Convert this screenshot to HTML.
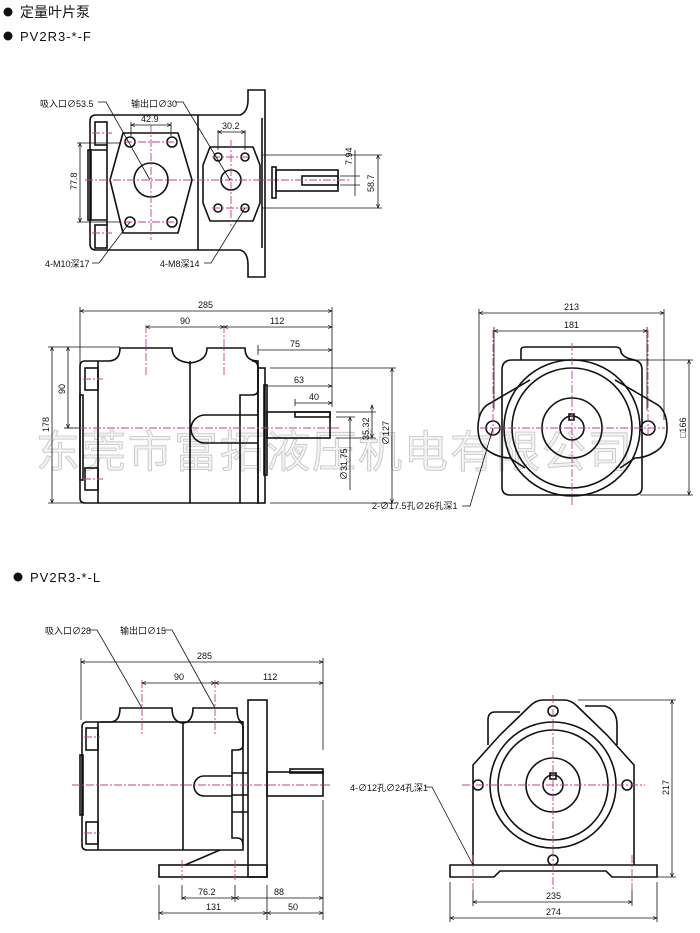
<!DOCTYPE html>
<html><head><meta charset="utf-8"><style>
html,body{margin:0;padding:0;background:#fff;width:700px;height:933px;overflow:hidden}
svg{display:block}
text{font-family:"Liberation Sans","Noto Sans CJK SC",sans-serif;fill:#111}
.o{fill:none;stroke:#111;stroke-width:1.6}
.d{fill:none;stroke:#111;stroke-width:0.8}
.c{fill:none;stroke:#c2408e;stroke-width:0.9;stroke-dasharray:8 2 2 2}
.t{font-size:9px}
.wm{fill:#f3f3f3;stroke:#c4c4c4;stroke-width:0.8;font-size:44px;letter-spacing:2px}
</style></head><body>
<svg width="700" height="933" viewBox="0 0 700 933">
<defs>
<marker id="a" markerWidth="6" markerHeight="6" refX="5" refY="3" orient="auto-start-reverse"><path d="M0,1 L5,3 L0,5" fill="none" stroke="#111" stroke-width="0.8"/></marker>
</defs>
<!-- header -->
<circle cx="8" cy="12" r="4.5" fill="#111"/>
<text x="20" y="17" font-size="14">定量叶片泵</text>
<circle cx="8" cy="36" r="4.5" fill="#111"/>
<text x="20" y="41" font-size="13" letter-spacing="1">PV2R3-*-F</text>

<!-- watermark -->
<text class="wm" x="36" y="467">东莞市富拓液压机电有限公司</text>

<!-- VIEW 1 -->
<g>
<path class="o" d="M96,115 H240 Q248,112 248,100 V90 H265 V277 H248 V265 Q248,252 240,250 H96 Q90,250 90,244 V121 Q90,115 96,115 Z"/>
<line class="o" x1="198" y1="115" x2="198" y2="250"/>
<line class="o" x1="262" y1="118" x2="262" y2="248"/>
<rect class="o" x="95" y="122" width="12" height="23"/>
<rect class="o" x="95" y="225" width="12" height="23"/>
<path class="o" d="M107,145 V225 M90,150 H107 M90,220 H107"/>
<rect class="o" x="88" y="150" width="3" height="70"/>
<path class="o" d="M123,133 H178 L192,180 L178,233 H123 L110,180 Z" stroke-linejoin="round"/>
<circle class="o" cx="151" cy="180" r="17"/>
<circle class="o" cx="130" cy="142" r="5"/><circle class="o" cx="172" cy="142" r="5"/>
<circle class="o" cx="130" cy="222" r="5"/><circle class="o" cx="172" cy="222" r="5"/>
<path class="o" d="M210,147 H253 L260,165 V203 L253,221 H210 L203,203 V165 Z" stroke-linejoin="round"/>
<circle class="o" cx="231" cy="180" r="10"/>
<circle class="o" cx="218" cy="157" r="4"/><circle class="o" cx="245" cy="157" r="4"/>
<circle class="o" cx="218" cy="208" r="4"/><circle class="o" cx="245" cy="208" r="4"/>
<rect class="o" x="272" y="167" width="4" height="31"/>
<rect class="o" x="276" y="170" width="62" height="21"/>
<rect class="o" x="302" y="176" width="36" height="9"/>
<line class="c" x1="85" y1="180" x2="350" y2="180"/>
<line class="c" x1="151" y1="125" x2="151" y2="240"/>
<line class="c" x1="231" y1="140" x2="231" y2="226"/>
<line class="c" x1="92" y1="133" x2="112" y2="133"/><line class="c" x1="92" y1="233" x2="112" y2="233"/>
<line class="c" x1="124" y1="142" x2="178" y2="142"/><line class="c" x1="124" y1="222" x2="178" y2="222"/>
<line class="c" x1="212" y1="157" x2="250" y2="157"/><line class="c" x1="212" y1="208" x2="250" y2="208"/>
<path class="d" d="M131,122 V136 M171,122 V136"/><line class="d" x1="131" y1="125" x2="171" y2="125" marker-start="url(#a)" marker-end="url(#a)"/>
<text class="t" x="141" y="122">42.9</text>
<path class="d" d="M218,130 V150 M245,130 V150"/><line class="d" x1="218" y1="132" x2="245" y2="132" marker-start="url(#a)" marker-end="url(#a)"/>
<text class="t" x="222" y="129">30.2</text>
<path class="d" d="M77,143 H120 M77,222 H120"/><line class="d" x1="80" y1="143" x2="80" y2="222" marker-start="url(#a)" marker-end="url(#a)"/>
<text class="t" transform="translate(77,190) rotate(-90)">77.8</text>
<path class="d" d="M262,155 H382 M262,208 H382 M340,176 H360 M340,185 H360"/>
<line class="d" x1="378" y1="155" x2="378" y2="208" marker-start="url(#a)" marker-end="url(#a)"/>
<line class="d" x1="355" y1="150" x2="355" y2="196"/>
<text class="t" transform="translate(374,192) rotate(-90)">58.7</text>
<text class="t" transform="translate(352,165) rotate(-90)">7.94</text>
<text class="t" x="40" y="107">吸入口∅53.5</text>
<path class="d" d="M98,102 H106 L150,180"/>
<text class="t" x="131" y="107">输出口∅30</text>
<path class="d" d="M175,102 H183 L230,180"/>
<text class="t" x="45" y="267">4-M10深17</text>
<path class="d" d="M92,263 H99 L130,222"/>
<text class="t" x="160" y="267">4-M8深14</text>
<path class="d" d="M204,263 H211 L245,208"/>
</g>

<!-- VIEW 2 -->
<g>
<path class="o" d="M85,361 H108 Q120,361 120,348 H172 Q172,361 190,363 Q207,361 207,348 H245 Q245,361 258,361 V503 H85 Q80,503 80,498 V366 Q80,361 85,361 Z"/>
<line class="o" x1="190" y1="361" x2="190" y2="503"/>
<line class="o" x1="98" y1="361" x2="98" y2="503"/>
<rect class="o" x="85" y="368" width="13" height="22"/>
<rect class="o" x="85" y="468" width="13" height="22"/>
<rect class="o" x="80" y="395" width="3" height="85"/>
<path class="o" d="M252,361 Q258,361 258,368 V390 Q258,395 252,395 H240 V503"/>
<path class="o" d="M240,415 H258 M240,443 H258"/>
<path class="o" d="M240,415 H205 A14,14 0 0 0 205,443 H240"/>
<rect class="o" x="258" y="368" width="7" height="135"/>
<rect class="o" x="264" y="385" width="3" height="90"/>
<rect class="o" x="267" y="412" width="63" height="26"/>
<rect class="o" x="295" y="412" width="35" height="5"/>
<line class="c" x1="65" y1="428" x2="340" y2="428"/>
<line class="c" x1="146" y1="325" x2="146" y2="377"/>
<line class="c" x1="224" y1="325" x2="224" y2="377"/>
<line class="c" x1="83" y1="379" x2="103" y2="379"/><line class="c" x1="83" y1="479" x2="103" y2="479"/>
<path class="d" d="M80,307 V400 M332,307 V407 M258,345 V355 M295,399 V406"/>
<line class="d" x1="80" y1="311" x2="332" y2="311" marker-start="url(#a)" marker-end="url(#a)"/><text class="t" x="198" y="308">285</text>
<line class="d" x1="146" y1="327" x2="224" y2="327" marker-start="url(#a)" marker-end="url(#a)"/><text class="t" x="180" y="324">90</text>
<line class="d" x1="224" y1="327" x2="332" y2="327" marker-start="url(#a)" marker-end="url(#a)"/><text class="t" x="270" y="324">112</text>
<line class="d" x1="258" y1="350" x2="332" y2="350" marker-end="url(#a)"/><text class="t" x="290" y="347">75</text>
<line class="d" x1="267" y1="386" x2="332" y2="386" marker-end="url(#a)"/><text class="t" x="294" y="383">63</text>
<line class="d" x1="295" y1="403" x2="332" y2="403" marker-end="url(#a)"/><text class="t" x="309" y="400">40</text>
<path class="d" d="M48,347 H120 M48,503 H85 M64,428 H80"/>
<line class="d" x1="52" y1="347" x2="52" y2="503" marker-start="url(#a)" marker-end="url(#a)"/>
<text class="t" transform="translate(49,432) rotate(-90)">178</text>
<line class="d" x1="68" y1="347" x2="68" y2="428" marker-start="url(#a)" marker-end="url(#a)"/>
<text class="t" transform="translate(65,394) rotate(-90)">90</text>
<path class="d" d="M270,368 H396 M270,503 H396 M336,412 H376 M336,438 H376 M336,417 H355"/>
<line class="d" x1="392" y1="368" x2="392" y2="503" marker-start="url(#a)" marker-end="url(#a)"/>
<text class="t" transform="translate(389,445) rotate(-90)">∅127</text>
<line class="d" x1="372" y1="405" x2="372" y2="438" marker-start="url(#a)" marker-end="url(#a)"/>
<text class="t" transform="translate(369,440) rotate(-90)">35.32</text>
<line class="d" x1="350" y1="417" x2="350" y2="490" marker-start="url(#a)"/>
<text class="t" transform="translate(347,480) rotate(-90)">∅31.75</text>
</g>

<!-- VIEW 3 -->
<g>
<path class="o" d="M521,360 V350 Q521,347 525,347 H615 Q621,347 621,352 Q623,358 635,360"/>
<path class="o" d="M512,360 H632 Q642,360 642,370 V487 Q642,495 634,495 H510 Q502,495 502,487 V370 Q502,360 512,360 Z"/>
<path class="o" d="M530,380 L487,405 Q478,412 478,428 Q478,445 490,452 Q500,458 510,458 L525,468 M615,380 L658,405 Q667,412 667,428 Q667,445 655,452 Q645,458 635,458 L620,468"/>
<circle class="o" cx="572" cy="428" r="68"/>
<circle class="o" cx="572" cy="428" r="60"/>
<circle class="o" cx="572" cy="428" r="30"/>
<circle class="o" cx="572" cy="428" r="12"/>
<rect class="o" x="569" y="414" width="5" height="6"/>
<circle class="o" cx="493" cy="428" r="7"/><circle class="o" cx="648" cy="428" r="7"/>
<line class="c" x1="480" y1="428" x2="665" y2="428"/>
<line class="c" x1="572" y1="343" x2="572" y2="505"/>
<line class="c" x1="493" y1="330" x2="493" y2="438"/><line class="c" x1="648" y1="330" x2="648" y2="438"/>
<path class="d" d="M479,309 V420 M664,309 V420 M494,327 V410 M647,327 V410"/>
<line class="d" x1="479" y1="313" x2="664" y2="313" marker-start="url(#a)" marker-end="url(#a)"/><text class="t" x="564" y="310">213</text>
<line class="d" x1="494" y1="331" x2="647" y2="331" marker-start="url(#a)" marker-end="url(#a)"/><text class="t" x="564" y="328">181</text>
<path class="d" d="M634,360 H693 M640,495 H693"/>
<line class="d" x1="689" y1="360" x2="689" y2="495" marker-start="url(#a)" marker-end="url(#a)"/>
<text class="t" transform="translate(686,438) rotate(-90)">□166</text>
<text class="t" x="372" y="509">2-∅17.5孔∅26孔深1</text>
<path class="d" d="M462,506 H470 L493,428"/>
</g>

<!-- second header -->
<circle cx="18" cy="577" r="4.5" fill="#111"/>
<text x="30" y="582" font-size="13" letter-spacing="1">PV2R3-*-L</text>

<!-- VIEW 4 -->
<g>
<path class="o" d="M100,722 H110 Q120,722 120,708 H172 Q172,722 183,723 Q193,722 193,708 H237 Q237,722 243,722"/>
<path class="o" d="M87,722 H243 V850 H87 Q82,850 82,845 V727 Q82,722 87,722 Z"/>
<line class="o" x1="98" y1="722" x2="98" y2="850"/>
<line class="o" x1="183" y1="722" x2="183" y2="850"/>
<rect class="o" x="86" y="728" width="12" height="22"/>
<rect class="o" x="86" y="822" width="12" height="22"/>
<rect class="o" x="80" y="755" width="3" height="60"/>
<path class="o" d="M238,722 Q243,722 243,728 V745 Q243,750 237,750 H232 V838 H237 Q243,838 243,845"/>
<path class="o" d="M232,773 H248 M232,795 H248 M232,812 H248 M232,776 H204 A10,10 0 0 0 204,796 H232"/>
<rect class="o" x="248" y="700" width="19" height="177" fill="#fff"/>
<rect class="o" x="159" y="865" width="108" height="12" fill="#fff"/>
<line class="o" x1="220" y1="850" x2="185" y2="865"/>
<rect class="o" x="267" y="772" width="56" height="24"/>
<rect class="o" x="290" y="769" width="33" height="4"/>
<line class="c" x1="72" y1="785" x2="330" y2="785"/>
<line class="c" x1="142" y1="680" x2="142" y2="735"/><line class="c" x1="215" y1="680" x2="215" y2="735"/>
<line class="c" x1="84" y1="737" x2="100" y2="737"/><line class="c" x1="84" y1="833" x2="100" y2="833"/>
<line class="c" x1="182" y1="860" x2="182" y2="880"/><line class="c" x1="235" y1="860" x2="235" y2="880"/>
<text class="t" x="45" y="634">吸入口∅28</text>
<path class="d" d="M89,630 H97 L142,708"/>
<text class="t" x="120" y="634">输出口∅15</text>
<path class="d" d="M164,630 H172 L215,708"/>
<path class="d" d="M81,658 V720 M323,658 V750 M323,800 V920 M159,885 V920 M182,885 V900 M235,885 V902 M267,885 V920"/>
<line class="d" x1="81" y1="662" x2="323" y2="662" marker-start="url(#a)" marker-end="url(#a)"/><text class="t" x="197" y="659">285</text>
<line class="d" x1="142" y1="683" x2="215" y2="683" marker-start="url(#a)" marker-end="url(#a)"/><text class="t" x="174" y="680">90</text>
<line class="d" x1="215" y1="683" x2="323" y2="683" marker-start="url(#a)" marker-end="url(#a)"/><text class="t" x="263" y="680">112</text>
<line class="d" x1="182" y1="898" x2="235" y2="898" marker-start="url(#a)" marker-end="url(#a)"/><text class="t" x="198" y="895">76.2</text>
<line class="d" x1="235" y1="898" x2="323" y2="898" marker-start="url(#a)" marker-end="url(#a)"/><text class="t" x="274" y="895">88</text>
<line class="d" x1="159" y1="913" x2="267" y2="913" marker-start="url(#a)" marker-end="url(#a)"/><text class="t" x="206" y="910">131</text>
<line class="d" x1="267" y1="913" x2="323" y2="913" marker-start="url(#a)" marker-end="url(#a)"/><text class="t" x="288" y="910">50</text>
</g>

<!-- VIEW 5 -->
<g>
<path class="o" d="M488,745 V720 Q488,712 495,712 H520 M585,706 H605 Q617,710 617,725 V745"/>
<path class="o" d="M473,865 V765 L500,735 L530,706 Q536,700 543,700 H564 Q571,700 577,706 L607,735 L634,765 V865"/>
<circle class="o" cx="553" cy="785" r="63" fill="#fff"/>
<circle class="o" cx="553" cy="785" r="55"/>
<circle class="o" cx="553" cy="785" r="27"/>
<circle class="o" cx="553" cy="785" r="10"/>
<rect class="o" x="550" y="773" width="6" height="6"/>
<circle class="o" cx="553" cy="711" r="5"/><circle class="o" cx="478" cy="785" r="5"/>
<circle class="o" cx="627" cy="785" r="5"/><circle class="o" cx="553" cy="860" r="5"/>
<path class="o" d="M450,865 H657 V877 H612 L606,871 H500 L494,877 H450 Z" fill="#fff"/>
<line class="c" x1="462" y1="785" x2="645" y2="785"/>
<line class="c" x1="553" y1="695" x2="553" y2="890"/>
<line class="c" x1="473" y1="855" x2="473" y2="890"/><line class="c" x1="632" y1="855" x2="632" y2="890"/>
<path class="d" d="M578,700 H676 M657,877 H676 M450,882 V922 M657,882 V922 M473,890 V906 M632,890 V906"/>
<line class="d" x1="672" y1="700" x2="672" y2="877" marker-start="url(#a)" marker-end="url(#a)"/>
<text class="t" transform="translate(669,795) rotate(-90)">217</text>
<line class="d" x1="473" y1="902" x2="632" y2="902" marker-start="url(#a)" marker-end="url(#a)"/><text class="t" x="546" y="899">235</text>
<line class="d" x1="450" y1="918" x2="657" y2="918" marker-start="url(#a)" marker-end="url(#a)"/><text class="t" x="546" y="915">274</text>
<text class="t" x="350" y="791">4-∅12孔∅24孔深1</text>
<path class="d" d="M425,787 H432 L473,865"/>
</g>
</svg>
</body></html>
